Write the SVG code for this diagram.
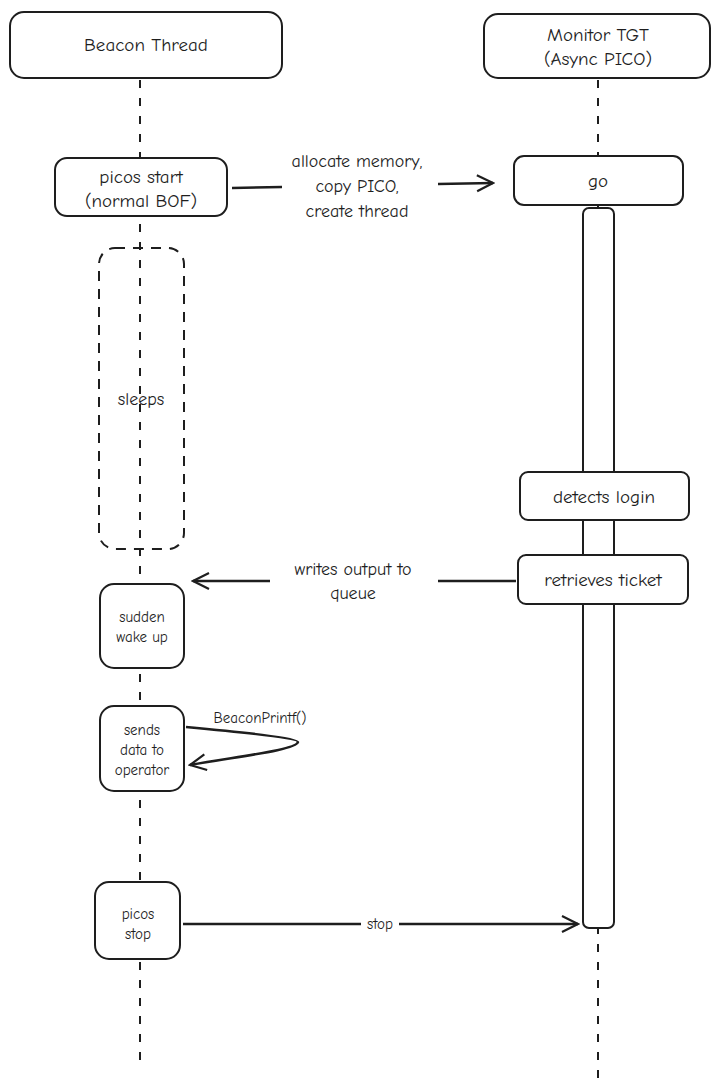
<svg xmlns="http://www.w3.org/2000/svg" width="722" height="1091" viewBox="0 0 722 1091">
<defs>
<marker id="ah" viewBox="0 0 20 20" refX="18" refY="10" markerWidth="20" markerHeight="20" markerUnits="userSpaceOnUse" orient="auto"><path d="M2,2 L18,10 L2,18" fill="none" stroke="#1e1e1e" stroke-width="2.2"/></marker>
</defs>
<style>
.b{fill:#fff;stroke:#1e1e1e;stroke-width:2}
.d{fill:none;stroke:#1e1e1e;stroke-width:2;stroke-dasharray:8 10}
.c{fill:none;stroke:#1e1e1e;stroke-width:2.5}
text{font-family:"Comic Neue","Liberation Sans",sans-serif;fill:#1e1e1e;text-anchor:middle}
.t{font-size:19px}.m{font-size:18px}.s{font-size:15px}
</style>
<rect width="722" height="1091" fill="#fff"/>
<g id="lifelines">
<line class="d" x1="140" y1="80" x2="140" y2="1070"/>
<line class="d" x1="598" y1="80" x2="598" y2="1080"/>
</g>
<g id="beacon"><rect class="b" x="10" y="12" width="272" height="66" rx="14"/><text class="t" x="146" y="51">Beacon Thread</text></g>
<g id="monitor"><rect class="b" x="484" y="14" width="226" height="64" rx="14"/><text class="t" x="598" y="41">Monitor TGT</text><text class="t" x="598" y="65">(Async PICO)</text></g>
<g id="bar"><rect class="b" x="583" y="208" width="31" height="720" rx="6"/></g>
<g id="start"><rect class="b" x="55" y="158" width="172" height="58" rx="12"/><text class="t" x="141" y="183">picos start</text><text class="t" x="141" y="207">(normal BOF)</text></g>
<g id="go"><rect class="b" x="514" y="156" width="169" height="49" rx="10"/><text class="t" x="598" y="187">go</text></g>
<g id="sleeps"><rect class="d" x="99" y="248" width="85" height="301" rx="16" style="stroke-dasharray:10 8"/><text class="m" x="141" y="405">sleeps</text></g>
<g id="login"><rect class="b" x="520" y="472" width="169" height="48" rx="8"/><text class="t" x="604" y="503">detects login</text></g>
<g id="ticket"><rect class="b" x="518" y="555" width="170" height="49" rx="8"/><text class="t" x="603" y="586">retrieves ticket</text></g>
<g id="wake"><rect class="b" x="100" y="584" width="84" height="84" rx="14"/><text class="s" x="142" y="622">sudden</text><text class="s" x="142" y="642">wake up</text></g>
<g id="sends"><rect class="b" x="100" y="706" width="84" height="85" rx="14"/><text class="s" x="142" y="735">sends</text><text class="s" x="142" y="755">data to</text><text class="s" x="142" y="775">operator</text></g>
<g id="stopnode"><rect class="b" x="95" y="882" width="85" height="77" rx="14"/><text class="s" x="138" y="919">picos</text><text class="s" x="138" y="939">stop</text></g>
<g id="connectors">
<line class="c" x1="232" y1="188" x2="282" y2="187"/>
<line class="c" x1="438" y1="184" x2="493" y2="183" marker-end="url(#ah)"/>
<text class="m" x="357" y="167">allocate memory,</text><text class="m" x="357" y="192">copy PICO,</text><text class="m" x="357" y="217">create thread</text>
<line class="c" x1="516" y1="581" x2="438" y2="581"/>
<line class="c" x1="270" y1="581" x2="193" y2="581" marker-end="url(#ah)"/>
<text class="m" x="353" y="575">writes output to</text><text class="m" x="353" y="599">queue</text>
<path class="c" d="M186,727 C240,732 298,738 298,742 C296,750 240,756 190,765" marker-end="url(#ah)"/>
<text class="s" x="260" y="723">BeaconPrintf()</text>
<line class="c" x1="183" y1="924" x2="578" y2="924" marker-end="url(#ah)"/>
<rect x="361" y="915" width="38" height="18" fill="#fff"/>
<text class="s" x="380" y="929">stop</text>
</g>
</svg>
